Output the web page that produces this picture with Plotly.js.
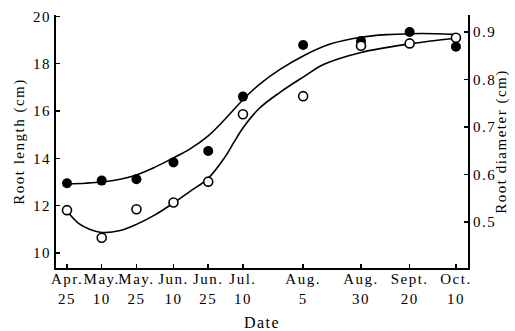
<!DOCTYPE html>
<html>
<head>
<meta charset="utf-8">
<script src="https://cdn.plot.ly/plotly-3.0.1.min.js"></script>
<style>
html,body{margin:0;padding:0;background:#fff;}
#chart{width:515px;height:331px;}
#chart .xtick text, #chart .ytick text, #chart .y2tick text,
#chart .xtitle, #chart .ytitle, #chart .y2title {letter-spacing:1.5px;}
</style>
</head>
<body>
<div id="chart"></div>
<script>
// Sampling dates (arbitrary year)
const sampleDates = ["1985-04-25","1985-05-10","1985-05-25","1985-06-10","1985-06-25","1985-07-10","1985-08-05","1985-08-30","1985-09-20","1985-10-10"];
const tickLabels = ["Apr.<br>25","May.<br>10","May.<br>25","Jun.<br>10","Jun.<br>25","Jul.<br>10","Aug.<br>5","Aug.<br>30","Sept.<br>20","Oct.<br>10"];

// Observed values
const rootLength = [12.95, 13.06, 13.12, 13.83, 14.31, 16.61, 18.79, 18.96, 19.34, 18.72];   // filled circles (cm)
const rootDiameter = [0.525, 0.467, 0.527, 0.541, 0.585, 0.727, 0.765, 0.871, 0.876, 0.888]; // open circles (cm)

// Fitted curves
const lengthCurveDates = ["1985-04-25","1985-05-03","1985-05-10","1985-05-18","1985-05-25","1985-06-02","1985-06-10","1985-06-17","1985-06-25","1985-07-02","1985-07-10","1985-07-17","1985-07-26","1985-08-05","1985-08-17","1985-08-30","1985-09-10","1985-09-20","1985-10-01","1985-10-10"];
const lengthCurve = [12.92, 12.95, 13.00, 13.12, 13.30, 13.63, 14.02, 14.39, 14.95, 15.63, 16.48, 17.12, 17.76, 18.33, 18.84, 19.12, 19.23, 19.27, 19.27, 19.24];
const diamCurveDates = ["1985-04-25","1985-04-30","1985-05-05","1985-05-10","1985-05-18","1985-05-25","1985-06-02","1985-06-10","1985-06-17","1985-06-25","1985-07-02","1985-07-06","1985-07-10","1985-07-17","1985-07-26","1985-08-05","1985-08-14","1985-08-30","1985-09-20","1985-10-10"];
const diamCurve = [0.523, 0.497, 0.484, 0.478, 0.482, 0.495, 0.515, 0.540, 0.564, 0.592, 0.635, 0.667, 0.698, 0.739, 0.773, 0.805, 0.832, 0.857, 0.875, 0.887];

const serif = "Liberation Serif, Times New Roman, serif";

const traces = [
  {x: lengthCurveDates, y: lengthCurve, mode: "lines", line: {color: "#000", width: 1.6, shape: "spline", smoothing: 1}, hoverinfo: "skip", yaxis: "y"},
  {x: sampleDates, y: rootLength, mode: "markers", marker: {color: "#000", size: 10}, yaxis: "y", name: "Root length"},
  {x: diamCurveDates, y: diamCurve, mode: "lines", line: {color: "#000", width: 1.6, shape: "spline", smoothing: 1}, hoverinfo: "skip", yaxis: "y2"},
  {x: sampleDates, y: rootDiameter, mode: "markers", marker: {color: "#fff", size: 9, line: {color: "#000", width: 1.6}}, yaxis: "y2", name: "Root diameter"}
];

const layout = {
  width: 515, height: 331,
  margin: {l: 56, r: 47, t: 15, b: 63},
  paper_bgcolor: "#fff", plot_bgcolor: "#fff",
  showlegend: false,
  font: {family: serif, color: "#000", size: 15},
  xaxis: {
    type: "date",
    range: ["1985-04-20 06:00", "1985-10-15 05:00"],
    tickvals: sampleDates, ticktext: tickLabels,
    ticks: "inside", ticklen: 4, tickwidth: 1.5, tickcolor: "#000",
    ticklabelstandoff: -4,
    showline: true, linewidth: 2, linecolor: "#000",
    showgrid: false, zeroline: false,
    tickfont: {family: serif, size: 15, color: "#000"},
    title: {text: "Date", font: {family: serif, size: 16, color: "#000"}, standoff: 11}
  },
  yaxis: {
    range: [9.366, 20.06],
    tickvals: [10, 12, 14, 16, 18, 20],
    ticks: "inside", ticklen: 4, tickwidth: 1.5, tickcolor: "#000",
    showline: true, linewidth: 2, linecolor: "#000",
    showgrid: false, zeroline: false,
    tickfont: {family: serif, size: 15, color: "#000"},
    title: {text: "Root length (cm)", font: {family: serif, size: 15, color: "#000"}, standoff: 8}
  },
  yaxis2: {
    overlaying: "y", side: "right",
    range: [0.4032, 0.9358],
    tickvals: [0.5, 0.6, 0.7, 0.8, 0.9], ticktext: ["0.5", "0.6", "0.7", "0.8", "0.9"],
    ticks: "inside", ticklen: 4, tickwidth: 1.5, tickcolor: "#000",
    showline: true, linewidth: 2, linecolor: "#000",
    showgrid: false, zeroline: false,
    tickfont: {family: serif, size: 15, color: "#000"},
    title: {text: "Root diameter (cm)", font: {family: serif, size: 15, color: "#000"}, standoff: 4}
  }
};

Plotly.newPlot("chart", traces, layout, {displayModeBar: false, staticPlot: true});
</script>
</body>
</html>
